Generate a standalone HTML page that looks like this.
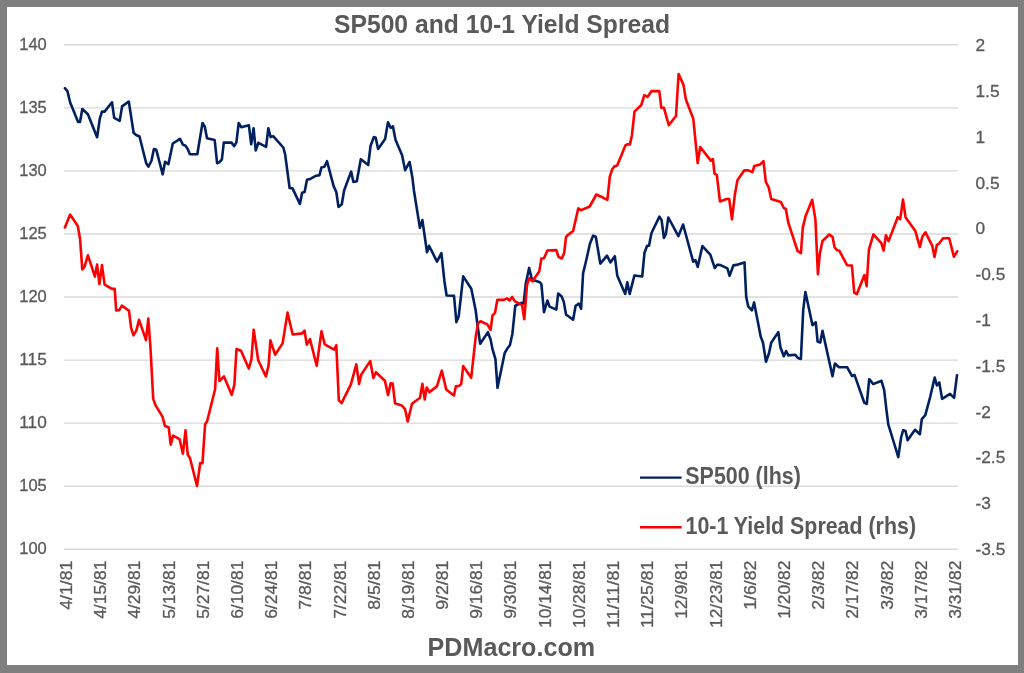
<!DOCTYPE html>
<html><head><meta charset="utf-8"><style>
html,body{margin:0;padding:0;background:#7f7f7f;}
body{width:1024px;height:673px;overflow:hidden;position:relative;}
svg{position:absolute;left:0;top:0;will-change:transform;}
text{-webkit-font-smoothing:antialiased;}
text{font-family:"Liberation Sans", sans-serif;fill:#595959;}
</style></head><body>
<svg width="1024" height="673" viewBox="0 0 1024 673">
<rect x="0" y="0" width="1024" height="673" fill="#7f7f7f"/>
<rect x="7" y="7" width="1011" height="658" fill="#ffffff"/>
<g stroke="#d9d9d9" stroke-width="1.4"><line x1="64" y1="44.80" x2="958" y2="44.80"/><line x1="64" y1="107.86" x2="958" y2="107.86"/><line x1="64" y1="170.92" x2="958" y2="170.92"/><line x1="64" y1="233.99" x2="958" y2="233.99"/><line x1="64" y1="297.05" x2="958" y2="297.05"/><line x1="64" y1="360.11" x2="958" y2="360.11"/><line x1="64" y1="423.17" x2="958" y2="423.17"/><line x1="64" y1="486.24" x2="958" y2="486.24"/><line x1="64" y1="549.30" x2="958" y2="549.30"/></g>
<g font-size="17" text-anchor="end" dominant-baseline="central" stroke="#595959" stroke-width="0.3"><text x="46.8" y="44.45" textLength="27.55" lengthAdjust="spacingAndGlyphs">140</text><text x="46.8" y="107.51" textLength="27.55" lengthAdjust="spacingAndGlyphs">135</text><text x="46.8" y="170.57" textLength="27.55" lengthAdjust="spacingAndGlyphs">130</text><text x="46.8" y="233.64" textLength="27.55" lengthAdjust="spacingAndGlyphs">125</text><text x="46.8" y="296.70" textLength="27.55" lengthAdjust="spacingAndGlyphs">120</text><text x="46.8" y="359.76" textLength="27.55" lengthAdjust="spacingAndGlyphs">115</text><text x="46.8" y="422.82" textLength="27.55" lengthAdjust="spacingAndGlyphs">110</text><text x="46.8" y="485.89" textLength="27.55" lengthAdjust="spacingAndGlyphs">105</text><text x="46.8" y="548.95" textLength="27.55" lengthAdjust="spacingAndGlyphs">100</text></g>
<g font-size="17.3" text-anchor="start" dominant-baseline="central" stroke="#595959" stroke-width="0.3"><text x="975.5" y="45.20">2</text><text x="975.5" y="90.99">1.5</text><text x="975.5" y="136.78">1</text><text x="975.5" y="182.57">0.5</text><text x="975.5" y="228.36">0</text><text x="975.5" y="274.15">-0.5</text><text x="975.5" y="319.94">-1</text><text x="975.5" y="365.73">-1.5</text><text x="975.5" y="411.52">-2</text><text x="975.5" y="457.31">-2.5</text><text x="975.5" y="503.10">-3</text><text x="975.5" y="548.89">-3.5</text></g>
<g font-size="17" text-anchor="end" dominant-baseline="central" stroke="#595959" stroke-width="0.3"><text transform="translate(66.50,560.6) rotate(-90)" x="0" y="0" textLength="49.20" lengthAdjust="spacingAndGlyphs">4/1/81</text><text transform="translate(100.69,560.6) rotate(-90)" x="0" y="0" textLength="58.25" lengthAdjust="spacingAndGlyphs">4/15/81</text><text transform="translate(134.88,560.6) rotate(-90)" x="0" y="0" textLength="58.25" lengthAdjust="spacingAndGlyphs">4/29/81</text><text transform="translate(169.07,560.6) rotate(-90)" x="0" y="0" textLength="58.25" lengthAdjust="spacingAndGlyphs">5/13/81</text><text transform="translate(203.25,560.6) rotate(-90)" x="0" y="0" textLength="58.25" lengthAdjust="spacingAndGlyphs">5/27/81</text><text transform="translate(237.44,560.6) rotate(-90)" x="0" y="0" textLength="58.25" lengthAdjust="spacingAndGlyphs">6/10/81</text><text transform="translate(271.63,560.6) rotate(-90)" x="0" y="0" textLength="58.25" lengthAdjust="spacingAndGlyphs">6/24/81</text><text transform="translate(305.82,560.6) rotate(-90)" x="0" y="0" textLength="49.20" lengthAdjust="spacingAndGlyphs">7/8/81</text><text transform="translate(340.01,560.6) rotate(-90)" x="0" y="0" textLength="58.25" lengthAdjust="spacingAndGlyphs">7/22/81</text><text transform="translate(374.20,560.6) rotate(-90)" x="0" y="0" textLength="49.20" lengthAdjust="spacingAndGlyphs">8/5/81</text><text transform="translate(408.38,560.6) rotate(-90)" x="0" y="0" textLength="58.25" lengthAdjust="spacingAndGlyphs">8/19/81</text><text transform="translate(442.57,560.6) rotate(-90)" x="0" y="0" textLength="49.20" lengthAdjust="spacingAndGlyphs">9/2/81</text><text transform="translate(476.76,560.6) rotate(-90)" x="0" y="0" textLength="58.25" lengthAdjust="spacingAndGlyphs">9/16/81</text><text transform="translate(510.95,560.6) rotate(-90)" x="0" y="0" textLength="58.25" lengthAdjust="spacingAndGlyphs">9/30/81</text><text transform="translate(545.14,560.6) rotate(-90)" x="0" y="0" textLength="67.30" lengthAdjust="spacingAndGlyphs">10/14/81</text><text transform="translate(579.33,560.6) rotate(-90)" x="0" y="0" textLength="67.30" lengthAdjust="spacingAndGlyphs">10/28/81</text><text transform="translate(613.52,560.6) rotate(-90)" x="0" y="0" textLength="67.30" lengthAdjust="spacingAndGlyphs">11/11/81</text><text transform="translate(647.70,560.6) rotate(-90)" x="0" y="0" textLength="67.30" lengthAdjust="spacingAndGlyphs">11/25/81</text><text transform="translate(681.89,560.6) rotate(-90)" x="0" y="0" textLength="58.25" lengthAdjust="spacingAndGlyphs">12/9/81</text><text transform="translate(716.08,560.6) rotate(-90)" x="0" y="0" textLength="67.30" lengthAdjust="spacingAndGlyphs">12/23/81</text><text transform="translate(750.27,560.6) rotate(-90)" x="0" y="0" textLength="49.20" lengthAdjust="spacingAndGlyphs">1/6/82</text><text transform="translate(784.46,560.6) rotate(-90)" x="0" y="0" textLength="58.25" lengthAdjust="spacingAndGlyphs">1/20/82</text><text transform="translate(818.65,560.6) rotate(-90)" x="0" y="0" textLength="49.20" lengthAdjust="spacingAndGlyphs">2/3/82</text><text transform="translate(852.83,560.6) rotate(-90)" x="0" y="0" textLength="58.25" lengthAdjust="spacingAndGlyphs">2/17/82</text><text transform="translate(887.02,560.6) rotate(-90)" x="0" y="0" textLength="49.20" lengthAdjust="spacingAndGlyphs">3/3/82</text><text transform="translate(921.21,560.6) rotate(-90)" x="0" y="0" textLength="58.25" lengthAdjust="spacingAndGlyphs">3/17/82</text><text transform="translate(955.40,560.6) rotate(-90)" x="0" y="0" textLength="58.25" lengthAdjust="spacingAndGlyphs">3/31/82</text></g>
<text x="334" y="32.6" font-size="26.1" font-weight="bold" textLength="336" lengthAdjust="spacingAndGlyphs">SP500 and 10-1 Yield Spread</text>
<polyline points="64.9,88.2 67.4,91.1 70.1,102.3 78.1,122.0 80.0,122.0 82.3,109.0 87.9,114.2 97.1,137.2 99.8,118.6 102.0,111.6 104.6,111.6 112.0,102.3 114.2,117.9 119.7,120.9 122.1,106.4 128.8,101.5 133.6,132.7 136.1,135.0 139.5,136.5 146.2,163.2 148.4,166.6 151.4,161.0 153.9,149.1 156.3,149.8 162.7,174.3 165.1,161.7 168.4,164.2 172.8,143.5 180.0,138.9 182.9,144.6 185.5,145.8 187.7,149.0 189.9,154.2 197.3,154.2 202.5,123.0 204.8,126.7 207.0,138.3 214.7,140.1 217.1,163.2 219.6,162.1 221.9,159.4 223.8,142.6 231.5,142.6 234.2,146.1 236.4,142.3 238.7,123.0 241.2,127.2 248.9,125.3 251.2,144.3 253.6,128.2 255.7,150.5 258.4,142.8 266.1,146.8 268.3,128.2 270.6,137.1 273.2,136.1 283.3,147.5 285.1,154.2 289.6,188.0 292.5,188.4 299.9,203.9 302.1,192.7 304.6,192.0 307.0,179.8 310.3,178.9 316.2,175.7 319.5,175.2 321.4,167.5 324.4,166.7 327.0,161.2 333.7,186.4 336.3,192.0 338.5,206.9 341.8,204.2 344.1,190.5 351.1,171.6 353.4,182.0 356.8,181.3 360.8,159.3 368.2,165.0 370.6,145.7 373.9,137.0 375.7,137.8 378.1,148.9 385.1,139.0 388.0,122.3 390.6,127.8 392.9,126.3 395.5,139.7 402.1,155.3 405.1,170.2 409.6,162.0 412.3,176.9 414.0,191.0 419.9,227.9 422.4,220.1 427.0,252.3 429.1,245.8 437.0,261.7 441.4,253.2 444.4,281.0 446.6,295.5 454.0,295.8 456.4,322.1 458.7,316.3 463.2,276.4 471.3,288.7 475.7,310.5 477.6,326.0 480.2,343.7 487.9,332.2 490.6,339.5 492.5,349.2 495.4,358.8 497.5,387.8 504.7,353.0 507.6,348.2 509.9,345.3 512.4,333.7 515.3,305.7 518.4,304.3 521.4,302.9 523.6,303.6 525.8,283.5 529.1,267.9 531.8,279.1 534.7,280.6 539.9,282.3 541.4,284.3 544.0,312.1 547.4,300.6 549.6,306.6 556.3,309.6 558.2,293.6 561.5,296.2 563.7,301.4 566.0,314.5 573.1,319.7 575.6,305.8 578.9,303.6 581.1,308.8 583.1,273.1 586.6,258.7 589.9,243.8 593.1,235.7 595.8,236.7 600.3,263.6 607.0,255.7 610.4,262.4 614.8,256.2 617.3,275.8 625.2,293.9 627.3,282.2 629.7,293.9 634.4,275.5 642.2,276.5 644.5,252.7 647.1,245.8 649.0,245.8 651.5,233.0 659.4,216.6 661.6,220.1 663.9,237.9 665.9,233.9 668.3,217.5 678.4,236.1 683.1,224.5 693.2,261.7 695.5,260.2 697.7,266.9 702.4,246.1 710.3,254.7 714.8,268.1 717.0,264.9 720.0,264.9 727.4,268.4 729.6,275.8 733.4,265.4 737.8,264.6 744.5,262.4 746.2,296.7 748.2,306.4 751.9,310.4 754.1,302.4 760.8,336.9 763.0,342.8 766.0,361.8 769.0,353.2 771.2,342.8 778.3,332.1 780.4,347.3 783.8,356.2 786.1,351.0 788.3,355.4 795.3,354.7 797.9,358.0 800.9,358.9 803.2,310.1 805.4,292.0 812.5,325.3 815.8,322.3 817.6,341.6 820.2,342.5 822.5,330.9 832.5,376.2 834.9,363.5 839.0,367.3 847.2,367.3 852.1,376.2 854.5,374.9 864.3,402.7 866.8,404.0 869.2,379.2 873.3,384.1 881.5,380.8 884.2,390.1 886.4,409.7 888.3,424.4 898.3,457.1 901.1,437.5 903.2,430.2 905.5,431.0 907.6,440.3 915.0,429.8 919.9,434.2 921.8,419.1 925.3,415.1 930.2,396.8 934.7,377.6 936.9,385.4 939.3,382.5 942.1,398.9 950.0,393.9 954.1,397.9 957.0,375.2" fill="none" stroke="#002060" stroke-width="2.6" stroke-linejoin="round" stroke-linecap="round"/>
<polyline points="64.9,227.5 70.1,214.6 77.8,226.0 80.1,239.4 82.3,269.5 84.5,266.9 87.9,255.3 94.9,276.5 97.1,264.6 99.4,284.0 102.0,265.1 104.6,284.7 112.0,288.9 114.7,288.9 116.2,310.5 119.2,310.1 121.9,305.6 129.0,310.8 131.1,327.9 133.5,335.3 136.4,330.4 139.0,319.7 146.0,340.2 148.3,318.5 150.4,346.5 153.2,398.9 155.6,405.4 162.6,416.9 164.9,425.8 168.7,427.5 170.7,444.6 173.1,435.7 179.6,439.2 182.9,453.6 185.5,430.4 187.8,454.9 189.9,457.7 197.0,486.0 200.2,463.1 202.5,463.1 205.1,424.2 207.1,421.3 215.1,389.2 217.2,348.3 219.4,381.0 224.0,376.5 231.7,394.8 234.4,384.7 236.5,349.0 241.0,350.8 248.8,368.6 251.4,359.4 253.7,329.7 258.2,360.2 265.9,376.5 268.6,365.4 270.4,340.4 275.1,354.7 282.6,343.4 287.5,312.6 292.7,334.5 302.3,333.4 304.5,330.5 306.8,344.7 310.0,339.2 316.7,365.7 321.5,331.3 324.7,344.4 334.2,349.6 336.3,345.2 338.8,400.3 341.6,403.2 350.9,384.4 356.3,364.3 359.1,384.0 361.2,374.6 370.2,361.1 373.4,377.9 375.9,372.2 384.9,380.7 388.1,395.1 390.6,383.3 392.7,383.6 395.0,403.2 401.7,405.4 405.1,409.2 407.7,421.5 412.0,403.8 420.0,397.8 422.4,383.8 424.7,399.5 426.7,387.5 429.4,392.1 436.9,386.4 441.8,370.7 446.2,389.4 453.9,395.5 455.9,386.4 459.2,385.8 461.2,383.8 463.2,366.1 471.2,377.8 475.7,336.6 478.2,323.1 480.5,321.2 487.3,324.4 490.6,329.8 492.5,315.4 495.0,312.9 497.3,299.9 503.7,299.9 507.2,298.4 509.5,300.6 512.1,296.9 514.7,301.1 519.1,303.6 522.1,305.1 524.3,319.2 527.0,285.0 529.1,278.3 532.5,281.3 539.2,271.6 541.4,258.5 544.0,258.3 547.4,250.5 556.3,250.1 558.5,256.8 561.8,258.5 564.2,253.0 566.0,237.1 567.4,235.4 573.1,231.0 578.3,208.4 581.2,210.1 589.7,206.5 596.3,194.5 600.0,196.2 607.4,199.9 609.8,176.6 612.3,169.2 614.4,166.3 617.2,165.6 625.4,145.5 627.3,144.4 629.9,144.4 631.9,135.5 634.5,111.6 641.3,105.0 644.3,95.2 647.5,96.9 651.5,91.1 659.3,91.1 661.3,107.8 663.9,107.8 668.8,125.1 676.0,116.0 678.6,74.0 683.5,84.9 685.8,99.3 693.3,118.9 697.7,163.0 700.2,147.0 710.8,160.6 712.9,159.0 714.5,173.7 716.8,174.8 720.0,201.5 726.6,199.0 729.2,199.0 732.0,219.4 734.7,195.8 737.4,180.2 744.2,170.4 748.3,170.4 752.4,172.1 754.3,166.0 760.2,164.4 763.5,161.1 765.8,181.9 768.7,187.3 771.2,199.0 779.3,201.5 781.0,202.3 783.8,208.0 785.9,209.2 788.3,222.7 797.6,251.0 800.9,253.1 802.8,227.6 805.6,216.1 812.2,199.8 815.4,219.4 817.9,274.2 819.8,253.7 822.5,241.0 829.3,234.4 832.6,237.1 834.5,246.9 836.7,250.1 839.4,250.8 847.0,265.2 851.9,265.5 854.2,292.6 856.8,294.2 864.4,275.0 866.6,286.1 868.9,249.6 873.4,234.4 881.3,243.1 883.6,250.5 885.9,235.4 888.6,241.1 897.7,217.2 900.2,219.1 903.0,199.5 905.5,217.2 915.4,231.1 919.8,247.1 922.3,236.8 925.5,232.3 932.4,246.2 934.5,257.0 936.8,245.0 939.3,243.3 943.1,238.3 949.2,238.3 953.9,256.7 957.3,251.3" fill="none" stroke="#ff0000" stroke-width="2.6" stroke-linejoin="round" stroke-linecap="round"/>
<line x1="640" y1="477.6" x2="681.6" y2="477.6" stroke="#002060" stroke-width="2.4"/>
<line x1="640" y1="527.2" x2="681.6" y2="527.2" stroke="#ff0000" stroke-width="2.4"/>
<text x="685.3" y="483.7" font-size="23.8" font-weight="bold" textLength="115.5" lengthAdjust="spacingAndGlyphs">SP500 (lhs)</text>
<text x="685.5" y="533.7" font-size="23.8" font-weight="bold" textLength="230.5" lengthAdjust="spacingAndGlyphs">10-1 Yield Spread (rhs)</text>
<text x="427.6" y="655.6" font-size="26.1" font-weight="bold" textLength="167.5" lengthAdjust="spacingAndGlyphs">PDMacro.com</text>
</svg>
</body></html>
